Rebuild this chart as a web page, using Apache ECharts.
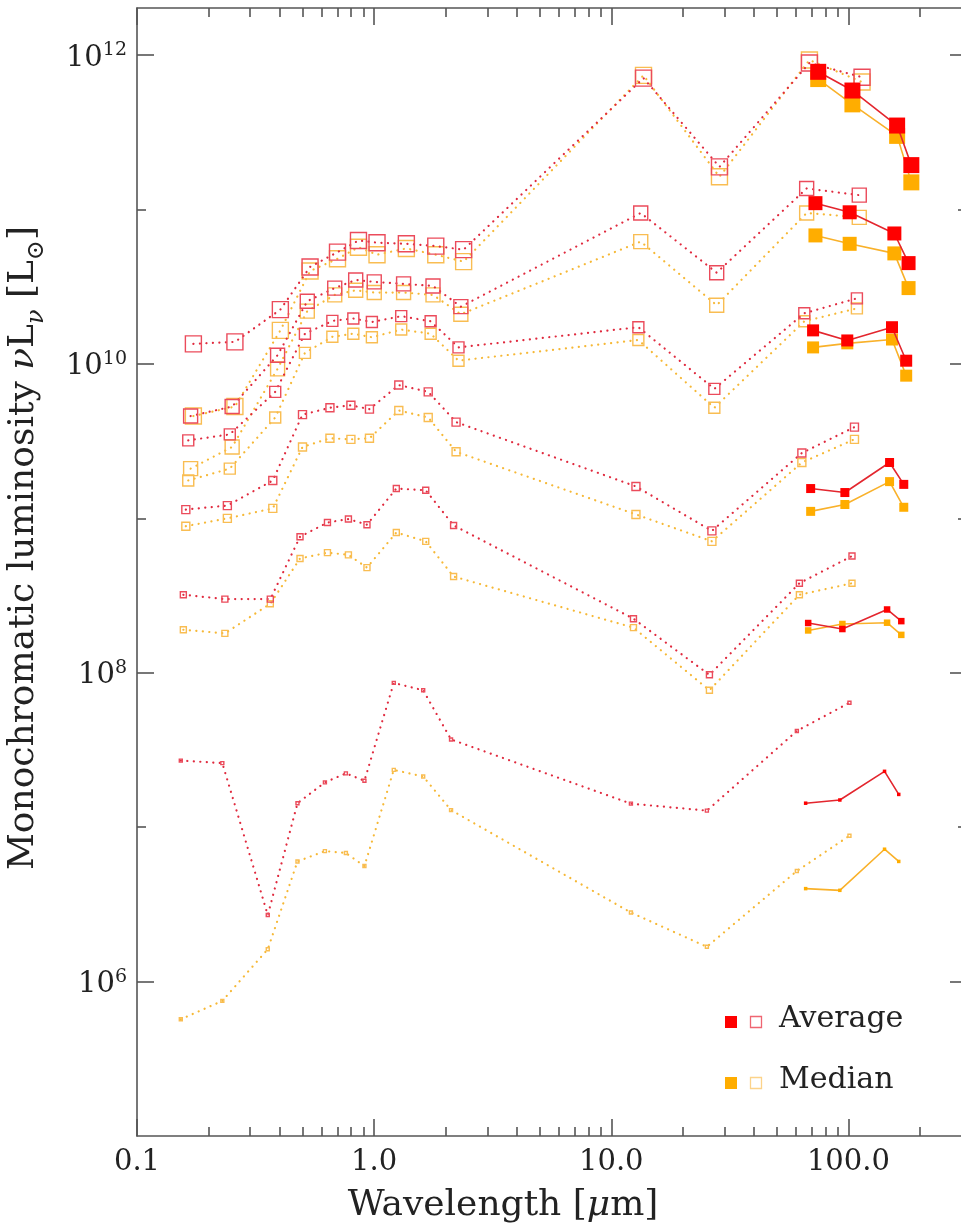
<!DOCTYPE html>
<html>
<head>
<meta charset="utf-8">
<script src="https://cdn.jsdelivr.net/npm/echarts@6/dist/echarts.min.js"></script>
<style>
  html, body { margin: 0; padding: 0; background: #fff; }
  #chart { width: 961px; height: 1226px; }
</style>
</head>
<body>
<div id="chart"></div>
<script>
// band wavelengths (micron): GALEX, SDSS, 2MASS, WISE/IRAS ... and the far-IR bands
const bandsOpen = [0.153, 0.229, 0.356, 0.475, 0.62, 0.76, 0.91, 1.21, 1.61, 2.11, 12.1, 25.3, 60.6, 101]
const bandsFir = [66, 92, 142, 163]
// each luminosity bin is shifted a little in wavelength, brightest first
const groupShift = [1.13, 1.10, 1.075, 1.05, 1.025, 1.0]

const avgOpenA = [1.35e10, 1.39e10, 2.25e10, 4.25e10, 5.3e10, 6.3e10, 6.1e10, 6.0e10, 5.8e10, 5.5e10, 7.1e11, 1.89e11, 8.9e11, 7.2e11]
const medOpenA = [4.6e9, 5.3e9, 1.65e10, 4.0e10, 4.8e10, 5.7e10, 5.1e10, 5.6e10, 5.1e10, 4.6e10, 7.4e11, 1.63e11, 9.3e11, 6.7e11]
const avgFirA = [7.8e11, 5.9e11, 3.5e11, 1.94e11]
const medFirA = [7.0e11, 4.8e11, 3.0e11, 1.5e11]

const avgOpenB = [4.6e9, 5.3e9, 1.14e10, 2.55e10, 3.1e10, 3.5e10, 3.4e10, 3.3e10, 3.2e10, 2.35e10, 9.5e10, 3.9e10, 1.37e11, 1.24e11]
const medOpenB = [2.1e9, 2.9e9, 9.3e9, 2.2e10, 2.8e10, 3.0e10, 2.9e10, 2.9e10, 2.8e10, 2.1e10, 6.2e10, 2.4e10, 9.5e10, 8.9e10]
const avgFirB = [1.1e11, 9.6e10, 7.0e10, 4.5e10]
const medFirB = [6.8e10, 6.0e10, 5.2e10, 3.1e10]

const avgOpenC = [3.2e9, 3.5e9, 6.6e9, 1.57e10, 1.9e10, 1.97e10, 1.87e10, 2.04e10, 1.89e10, 1.28e10, 1.73e10, 6.9e9, 2.13e10, 2.66e10]
const medOpenC = [1.76e9, 2.1e9, 4.5e9, 1.18e10, 1.5e10, 1.57e10, 1.49e10, 1.67e10, 1.57e10, 1.05e10, 1.43e10, 5.2e9, 1.89e10, 2.29e10]
const avgFirC = [1.65e10, 1.42e10, 1.73e10, 1.05e10]
const medFirC = [1.28e10, 1.36e10, 1.44e10, 8.4e9]

const avgOpenD = [1.14e9, 1.21e9, 1.76e9, 4.7e9, 5.2e9, 5.4e9, 5.1e9, 7.3e9, 6.6e9, 4.2e9, 1.61e9, 8.3e8, 2.65e9, 3.9e9]
const medOpenD = [8.9e8, 1.0e9, 1.16e9, 2.9e9, 3.3e9, 3.25e9, 3.3e9, 5.0e9, 4.5e9, 2.7e9, 1.06e9, 7.1e8, 2.3e9, 3.25e9]
const avgFirD = [1.56e9, 1.47e9, 2.3e9, 1.66e9]
const medFirD = [1.11e9, 1.23e9, 1.73e9, 1.18e9]

const avgOpenE = [3.2e8, 3.0e8, 3.0e8, 7.6e8, 9.4e8, 9.9e8, 9.1e8, 1.56e9, 1.52e9, 9.0e8, 2.24e8, 9.7e7, 3.8e8, 5.7e8]
const medOpenE = [1.9e8, 1.8e8, 2.8e8, 5.5e8, 6.0e8, 5.8e8, 4.8e8, 8.1e8, 7.1e8, 4.2e8, 1.96e8, 7.7e7, 3.2e8, 3.8e8]
const avgFirE = [2.1e8, 1.92e8, 2.57e8, 2.16e8]
const medFirE = [1.88e8, 2.07e8, 2.11e8, 1.76e8]

const avgOpenF = [2.7e7, 2.6e7, 2.7e6, 1.43e7, 1.95e7, 2.23e7, 2.0e7, 8.6e7, 7.7e7, 3.7e7, 1.42e7, 1.28e7, 4.2e7, 6.4e7]
const medOpenF = [5.7e5, 7.5e5, 1.62e6, 6.0e6, 7.0e6, 6.8e6, 5.6e6, 2.35e7, 2.13e7, 1.29e7, 2.8e6, 1.68e6, 5.2e6, 8.8e6]
const avgFirF = [1.43e7, 1.5e7, 2.3e7, 1.63e7]
const medFirF = [4.0e6, 3.9e6, 7.2e6, 6.0e6]

// axis ticks
const xMajor = [0.1, 1, 10, 100]
const xMinor = [0.2, 0.3, 0.4, 0.5, 0.6, 0.7, 0.8, 0.9, 2, 3, 4, 5, 6, 7, 8, 9, 20, 30, 40, 50, 60, 70, 80, 90, 200, 300]
const yMajor = [1e6, 1e8, 1e10, 1e12]
const yMinor = [1e7, 1e9, 1e11]

const avgOpen = [avgOpenA, avgOpenB, avgOpenC, avgOpenD, avgOpenE, avgOpenF]
const medOpen = [medOpenA, medOpenB, medOpenC, medOpenD, medOpenE, medOpenF]
const avgFir = [avgFirA, avgFirB, avgFirC, avgFirD, avgFirE, avgFirF]
const medFir = [medFirA, medFirB, medFirC, medFirD, medFirE, medFirF]

// marker sizes per bin
const openSize = [16, 14, 11, 8, 6, 3]
const firSize = [16, 14, 12, 9, 6.5, 3.5]

const FONT = 'DejaVu Serif'
const AXIS = '#555'
const RED_OPEN = '#eb4b5b', RED_DOT = '#e02a3e', RED_FILL = '#ff0000', RED_LINE = '#e3262e'
const ORA_OPEN = '#f9bd52', ORA_DOT = '#f6b836', ORA_FILL = '#ffad00', ORA_LINE = '#f9b12a'

const pairs = (waves, vals, k) => vals.map((v, i) => [waves[i] * groupShift[k], v])

function openSeries(name, data, border, dot, size, z) {
  return {
    type: 'line', name, data, z,
    symbol: 'rect', symbolSize: size, showAllSymbol: true,
    itemStyle: { color: 'rgba(255,255,255,0)', borderColor: border, borderWidth: 1.4 },
    lineStyle: { color: dot, width: 2.2, type: [0.1, 6.4], cap: 'round' },
  }
}

function firSeries(name, data, fill, line, size, z) {
  return {
    type: 'line', name, data, z,
    symbol: 'rect', symbolSize: size, showAllSymbol: true,
    itemStyle: { color: fill },
    lineStyle: { color: line, width: 1.6 },
  }
}

const series = []
for (let k = 0; k < 6; k++) {
  series.push(openSeries('Median', pairs(bandsOpen, medOpen[k], k), ORA_OPEN, ORA_DOT, openSize[k], 2))
  series.push(openSeries('Average', pairs(bandsOpen, avgOpen[k], k), RED_OPEN, RED_DOT, openSize[k], 3))
  series.push(firSeries('Median', pairs(bandsFir, medFir[k], k), ORA_FILL, ORA_LINE, firSize[k], 4))
  series.push(firSeries('Average', pairs(bandsFir, avgFir[k], k), RED_FILL, RED_LINE, firSize[k], 5))
}

const tickStyle = { color: AXIS, width: 1.6 }
const xBase = { type: 'log', logBase: 10, min: 0.1, max: Math.pow(10, 2.5), splitLine: { show: false } }
const yBase = { type: 'log', logBase: 10, min: 1e5, max: 2.02e12, splitLine: { show: false } }

const xLabel = v => v.toFixed(1)
const yLabel = v => '{b|10}{s|' + Math.round(Math.log10(v)) + '}'

function xAxisOf(position, ticks, len, main) {
  return {
    ...xBase, position,
    axisLine: { show: main, onZero: false, lineStyle: tickStyle },
    axisTick: { show: true, inside: true, length: len, customValues: ticks, lineStyle: tickStyle },
    axisLabel: { show: false },
  }
}
function yAxisOf(position, ticks, len, main) {
  return {
    ...yBase, position,
    axisLine: { show: main, onZero: false, lineStyle: tickStyle },
    axisTick: { show: true, inside: true, length: len, customValues: ticks, lineStyle: tickStyle },
    axisLabel: { show: false },
  }
}

const xMain = xAxisOf('bottom', xMajor, 17, true)
xMain.axisLabel = { show: true, customValues: xMajor, formatter: xLabel, margin: 12,
  fontFamily: FONT, fontSize: 29, color: '#222' }
xMain.name = 'Wavelength [{i|μ}m]'
xMain.nameLocation = 'middle'
xMain.nameGap = 52
xMain.nameTextStyle = { fontFamily: FONT, fontSize: 36, color: '#222', padding: [0, 98, 0, 0],
  rich: { i: { fontFamily: FONT, fontSize: 36, fontStyle: 'italic', color: '#222' } } }

const yMain = yAxisOf('left', yMajor, 17, true)
yMain.axisLabel = { show: true, customValues: yMajor, formatter: yLabel, margin: 10, color: '#222',
  rich: {
    b: { fontFamily: FONT, fontSize: 29, lineHeight: 29, padding: [6, 0, 0, 0], color: '#222' },
    s: { fontFamily: FONT, fontSize: 19, lineHeight: 19, verticalAlign: 'top', color: '#222' },
  } }
yMain.name = 'Monochromatic luminosity {i|ν}L{sub|ν} [L{sub|⊙}]'
yMain.nameLocation = 'middle'
yMain.nameGap = 95
yMain.nameTextStyle = { fontFamily: FONT, fontSize: 36, color: '#222', padding: [0, 0, 0, 48],
  rich: {
    i: { fontFamily: FONT, fontSize: 36, fontStyle: 'italic', color: '#222' },
    sub: { fontFamily: FONT, fontSize: 24, fontStyle: 'italic', verticalAlign: 'bottom', lineHeight: 24, padding: [0, 0, -7, 0], color: '#222' },
  } }

const option = {
  animation: false,
  backgroundColor: '#fff',
  textStyle: { fontFamily: FONT },
  grid: { left: 137, top: 8, width: 830, height: 1128, containLabel: false, outerBoundsMode: 'none' },
  xAxis: [
    xMain,
    xAxisOf('bottom', xMinor, 9, false),
    xAxisOf('top', xMajor, 17, true),
    xAxisOf('top', xMinor, 9, false),
  ],
  yAxis: [
    yMain,
    yAxisOf('left', yMinor, 9, false),
    yAxisOf('right', yMajor, 17, true),
    yAxisOf('right', yMinor, 9, false),
  ],
  series,
  graphic: [
    { type: 'rect', shape: { x: 725, y: 1016, width: 12, height: 12 }, style: { fill: RED_FILL } },
    { type: 'rect', shape: { x: 750.5, y: 1016.5, width: 11, height: 11 }, style: { fill: 'none', stroke: '#ef6672', lineWidth: 1.3 } },
    { type: 'text', x: 779, y: 1019, style: { text: 'Average', font: '30px "DejaVu Serif"', fill: '#222', verticalAlign: 'middle' } },
    { type: 'rect', shape: { x: 725, y: 1077, width: 12, height: 12 }, style: { fill: ORA_FILL } },
    { type: 'rect', shape: { x: 750.5, y: 1077.5, width: 11, height: 11 }, style: { fill: 'none', stroke: '#fcd38a', lineWidth: 1.3 } },
    { type: 'text', x: 779, y: 1080, style: { text: 'Median', font: '30px "DejaVu Serif"', fill: '#222', verticalAlign: 'middle' } },
  ],
}

const chart = echarts.init(document.getElementById('chart'))
chart.setOption(option)
</script>
</body>
</html>
